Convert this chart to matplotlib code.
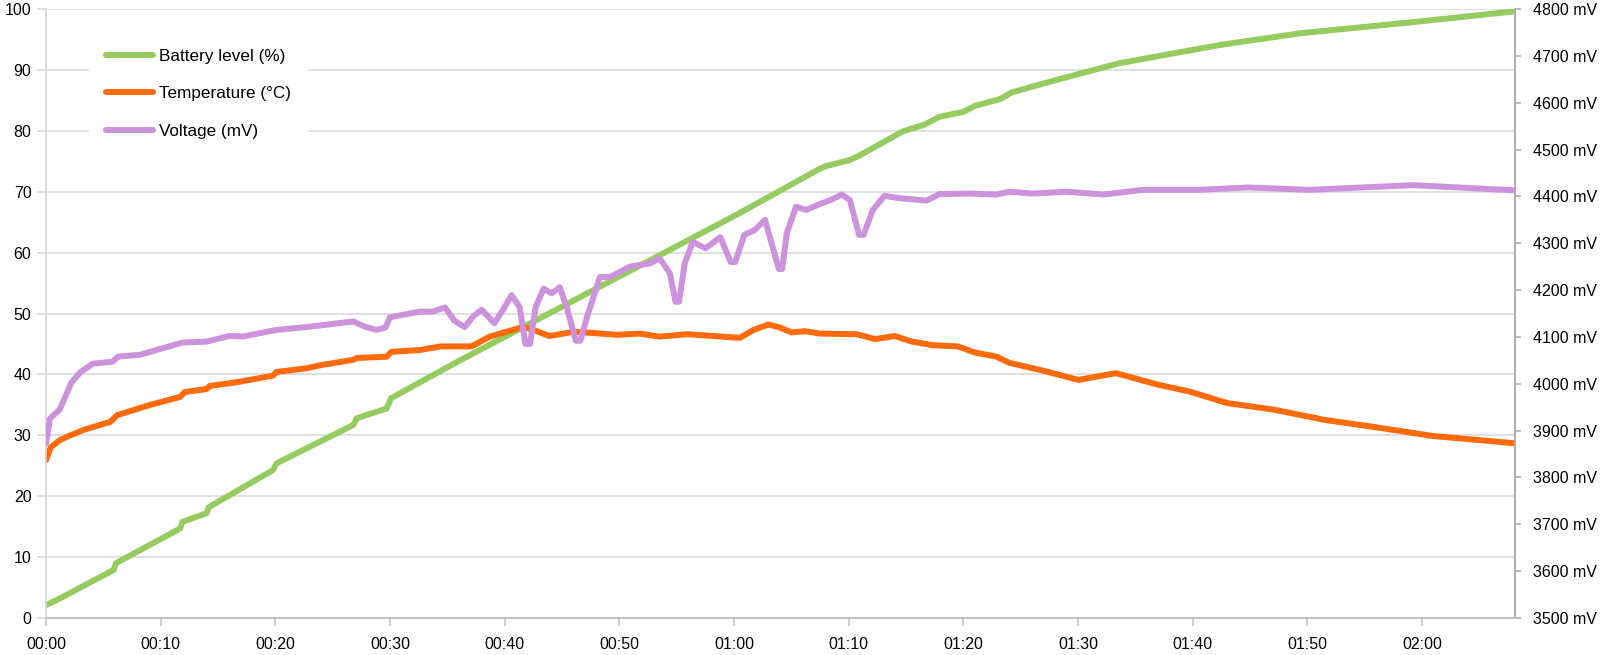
import matplotlib
matplotlib.use("Agg")
import matplotlib.pyplot as plt
from matplotlib.ticker import FuncFormatter, MultipleLocator

plt.rcParams['font.family'] = ['Liberation Sans', 'DejaVu Sans']

# time in minutes since start of charging
battery_t = [0, 1.2, 5.9, 6.1, 11.7, 11.9, 14.0, 14.2, 19.8, 20.1, 26.8, 27.1, 29.7, 30.1,
	35.9, 60.5, 67.5, 68.0, 70.1, 71.0, 74.7, 76.6, 77.9, 80.0, 81.0, 83.2, 84.2, 88.4,
	93.6, 97.1, 102.4, 109.3, 119.5, 128.0]
battery = [2.1, 3.2, 7.9, 9.0, 14.7, 15.8, 17.2, 18.2, 24.3, 25.4, 31.7, 32.8, 34.4, 36.1,
	42.1, 66.5, 73.8, 74.2, 75.2, 76.0, 79.9, 81.0, 82.3, 83.1, 84.1, 85.2, 86.3, 88.5,
	91.1, 92.3, 94.1, 96.0, 97.9, 99.6]

temp_t = [0, 0.4, 1.2, 2.0, 3.3, 5.6, 6.2, 9.1, 11.7, 12.1, 14.0, 14.3, 16.9, 19.8, 20.1,
	22.7, 23.9, 26.8, 27.1, 29.7, 30.1, 32.6, 34.4, 37.1, 38.7, 41.6, 42.5, 43.9, 46.0,
	47.7, 49.8, 51.8, 53.5, 55.9, 58.2, 60.5, 61.7, 63.0, 64.0, 65.0, 66.2, 67.5, 70.7,
	72.3, 74.0, 75.5, 77.3, 79.5, 81.0, 82.9, 84.0, 87.0, 90.0, 93.3, 97.0, 99.7, 103.0,
	107.1, 111.6, 115.7, 120.9, 128.0]
temperature = [25.9, 28.0, 29.2, 29.9, 30.9, 32.2, 33.3, 35.0, 36.3, 37.1, 37.6, 38.1, 38.8,
	39.8, 40.4, 41.0, 41.5, 42.4, 42.7, 42.9, 43.7, 44.0, 44.6, 44.6, 46.2, 47.8, 47.3, 46.3,
	47.0, 46.8, 46.5, 46.7, 46.2, 46.6, 46.3, 46.0, 47.3, 48.2, 47.7, 46.9, 47.1, 46.7, 46.6,
	45.8, 46.3, 45.4, 44.8, 44.6, 43.6, 42.9, 41.9, 40.6, 39.1, 40.2, 38.3, 37.2, 35.3,
	34.2, 32.5, 31.4, 29.9, 28.7]

volt_t = [0, 0.35, 1.2, 2.2, 3.0, 4.1, 5.8, 6.3, 8.2, 11.9, 14.0, 16.0, 17.2, 20.1, 22.7, 26.8,
	27.8, 28.8, 29.6, 30.0, 32.6, 33.7, 34.8, 35.6, 36.5, 37.3, 38.0, 39.1, 39.9, 40.6, 41.3,
	41.8, 42.2, 42.7, 43.4, 44.1, 44.8, 45.4, 46.2, 46.6, 47.2, 48.3, 49.2, 50.9, 52.7, 53.5,
	54.4, 54.9, 55.2, 55.7, 56.4, 57.5, 58.8, 59.7, 60.1, 60.9, 61.8, 62.7, 63.5, 63.9, 64.2,
	64.6, 65.4, 66.3, 67.5, 68.4, 69.4, 70.1, 70.9, 71.3, 72.1, 73.1, 74.5, 76.8, 77.9, 80.6,
	82.9, 84.0, 86.0, 89.0, 92.2, 95.7, 100.6, 104.8, 110.2, 119.2, 128.0]
voltage = [3873, 3926, 3945, 4002, 4025, 4043, 4047, 4058, 4062, 4088, 4090, 4102, 4101, 4115,
	4121, 4133, 4122, 4115, 4120, 4142, 4154, 4154, 4163, 4135, 4121, 4145, 4158, 4129, 4160,
	4189, 4164, 4085, 4085, 4164, 4203, 4193, 4206, 4164, 4092, 4092, 4144, 4228, 4228, 4250,
	4257, 4268, 4236, 4175, 4175, 4257, 4303, 4289, 4313, 4260, 4260, 4318, 4328, 4350, 4280,
	4245, 4245, 4322, 4378, 4371, 4384, 4392, 4404, 4392, 4318, 4318, 4371, 4401, 4396, 4391,
	4405, 4406, 4404, 4410, 4406, 4410, 4404, 4414, 4414, 4419, 4414, 4424, 4413]

x_max = 128.1
left_ticks = list(range(0, 101, 10))
right_ticks = list(range(3500, 4801, 100))

GREEN = '#95cb5f'
ORANGE = '#ff6a0a'
PURPLE = '#cd92dc'


def hhmm(x, pos):
	m = int(round(x))
	return "%02d:%02d" % (m // 60, m % 60)


def main():
	fig = plt.figure(figsize=(16, 6.55), dpi=100)
	ax = fig.add_axes([46 / 1600, 1 - 618 / 655, (1515 - 46) / 1600, (618 - 9) / 655])
	ax2 = ax.twinx()

	lw = 4.3
	l1, = ax.plot(battery_t, battery, color=GREEN, lw=lw, solid_joinstyle='round',
		solid_capstyle='round', label='Battery level (%)', zorder=3)
	l2, = ax.plot(temp_t, temperature, color=ORANGE, lw=lw, solid_joinstyle='round',
		solid_capstyle='round', label='Temperature (°C)', zorder=4)
	l3, = ax2.plot(volt_t, voltage, color=PURPLE, lw=lw, solid_joinstyle='round',
		solid_capstyle='round', label='Voltage (mV)', zorder=5)

	ax.set_xlim(0, x_max)
	ax.set_ylim(0, 100)
	ax2.set_ylim(3500, 4800)
	ax.set_yticks(left_ticks)
	ax2.set_yticks(right_ticks)
	ax2.set_yticklabels(["%d mV" % v for v in right_ticks])
	ax.xaxis.set_major_locator(MultipleLocator(10))
	ax.xaxis.set_major_formatter(FuncFormatter(hhmm))

	ax.grid(axis='y', color='#d9d9d9', lw=1.1)
	ax.set_axisbelow(True)

	for a in (ax, ax2):
		a.spines['top'].set_visible(False)
		a.spines['left'].set_color('#d9d9d9')
		a.spines['bottom'].set_color('#bfbfbf')
		a.spines['right'].set_color('#aaaaaa')
		for s in a.spines.values():
			s.set_linewidth(1.1)

	ax.tick_params(axis='y', length=6.5, width=1.1, color='#d9d9d9', labelsize=11.5, pad=4)
	ax.tick_params(axis='x', length=6, width=1.1, color='#bfbfbf', labelsize=11.5, pad=8)
	ax2.tick_params(axis='y', length=4.3, width=1.1, color='#aaaaaa', labelsize=11.5, pad=9)

	leg = ax2.legend(handles=[l1, l2, l3], loc='upper left', bbox_to_anchor=(0.0295, 0.962),
		borderaxespad=0, frameon=True, fancybox=False, fontsize=12.3, handlelength=2.7,
		handletextpad=0.38, labelspacing=1.3, borderpad=1.0)
	leg.get_frame().set_facecolor('white')
	leg.get_frame().set_edgecolor('none')
	leg.get_frame().set_alpha(1)
	leg.set_zorder(10)

	plt.savefig("out.png", dpi=100)


if __name__ == "__main__":
	main()
